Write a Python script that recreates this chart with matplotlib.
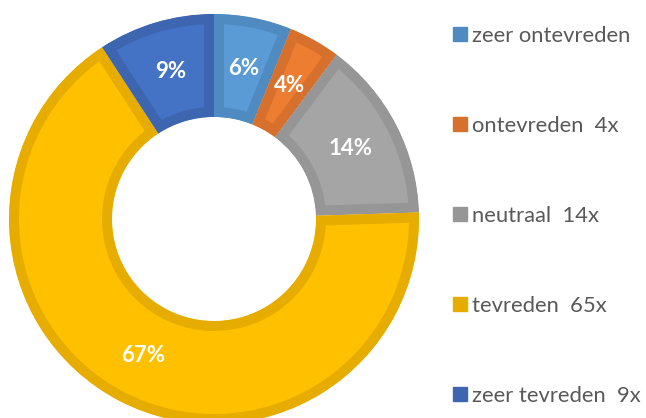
import numpy as np
import matplotlib.pyplot as plt
from matplotlib.patches import Patch

# tevredenheid (aantallen en percentages zoals op de grafiek)
categorieen = ['zeer ontevreden', 'ontevreden', 'neutraal', 'tevreden', 'zeer tevreden']
aantallen = [6, 4, 14, 65, 9]
legenda_teksten = ['zeer ontevreden', 'ontevreden  4x', 'neutraal  14x', 'tevreden  65x', 'zeer tevreden  9x']
percentages = ['6%', '4%', '14%', '67%', '9%']

vulkleuren = ['#5B9BD5', '#ED7D31', '#A5A5A5', '#FFC000', '#4472C4']
randkleuren = ['#4F8AC1', '#D6702C', '#969696', '#E6AD00', '#3E66B0']

fig = plt.figure(figsize=(6.46, 4.18), dpi=100)
ax = fig.add_axes([0, 0, 1, 1])

cx, cy = 214, 418 - 219
R = 205
ring = 103

wedges, _ = ax.pie(aantallen, colors=vulkleuren, startangle=90, counterclock=False,
                   center=(cx, cy), radius=R,
                   wedgeprops=dict(width=ring, linewidth=14.4))

ax.set_xlim(0, 646)
ax.set_ylim(0, 418)
ax.set_aspect('equal')
ax.axis('off')

# rand alleen binnen elk segment laten zien (zoals Excel)
for w, rk in zip(wedges, randkleuren):
    w.set_edgecolor(rk)
    w.set_clip_on(True)
    w.set_clip_path(w)

# percentages midden in de ring
r_mid = R - ring / 2
for w, p in zip(wedges, percentages):
    hoek = np.deg2rad((w.theta1 + w.theta2) / 2)
    ax.text(cx + r_mid * np.cos(hoek), cy + r_mid * np.sin(hoek), p,
            ha='center', va='center', color='white',
            fontweight='bold', family='Lato', fontsize=16)

handles = [Patch(facecolor=rk, edgecolor=rk) for rk in randkleuren]
leg = fig.legend(handles, legenda_teksten, loc='upper left', bbox_to_anchor=(0.671, 0.985),
                 frameon=False, labelspacing=3.19,
                 handlelength=0.62, handleheight=0.62, handletextpad=0.25,
                 prop={'family': 'Lato', 'size': 15.8})
for t in leg.get_texts():
    t.set_color('#595959')

plt.savefig('out.png', dpi=100)
